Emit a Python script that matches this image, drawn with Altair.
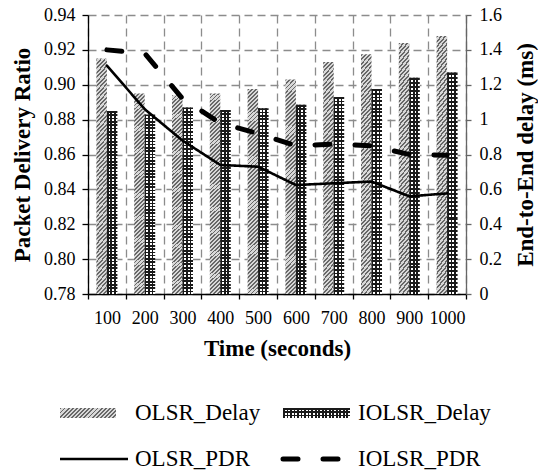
import altair as alt
import pandas as pd

# ---------------- data ----------------
times = [100, 200, 300, 400, 500, 600, 700, 800, 900, 1000]
olsr_delay = [1.35, 1.15, 1.14, 1.15, 1.175, 1.23, 1.33, 1.375, 1.44, 1.48]
iolsr_delay = [1.05, 1.03, 1.07, 1.055, 1.065, 1.085, 1.13, 1.175, 1.24, 1.27]
olsr_pdr = [0.911, 0.886, 0.868, 0.854, 0.853, 0.8425, 0.8435, 0.8445, 0.836, 0.8377]
iolsr_pdr = [0.920, 0.918, 0.892, 0.878, 0.872, 0.865, 0.866, 0.865, 0.860, 0.8595]
pdr_ticks = [0.78, 0.80, 0.82, 0.84, 0.86, 0.88, 0.90, 0.92, 0.94]
delay_ticks = [0, 0.2, 0.4, 0.6, 0.8, 1.0, 1.2, 1.4, 1.6]
bar_series = ["OLSR_Delay", "IOLSR_Delay"]
line_series = ["OLSR_PDR", "IOLSR_PDR"]
legend_names = ["OLSR_Delay", "IOLSR_Delay", "OLSR_PDR", "IOLSR_PDR"]
legend_kinds = ["hatch", "check", "solid", "dash"]

FONT = "Liberation Serif"

bars_df = pd.DataFrame({
    "time": times * 2,
    "series": [bar_series[0]] * len(times) + [bar_series[1]] * len(times),
    "delay": olsr_delay + iolsr_delay,
})
lines_df = pd.DataFrame({
    "time": times * 2,
    "series": [line_series[0]] * len(times) + [line_series[1]] * len(times),
    "pdr": olsr_pdr + iolsr_pdr,
})
legend_df = pd.DataFrame({"name": legend_names, "kind": legend_kinds})
legend_df["col"] = [i % 2 for i in range(len(legend_names))]
legend_df["row"] = [i // 2 for i in range(len(legend_names))]

# ---------------- pattern helpers (styles) ----------------
HATCH_DARK = "#676767"
HATCH_LIGHT = "#d8d8d8"


def stripe_stops(n, c_a, c_b, frac_a):
    stops = []
    for i in range(n):
        s = round(i / n, 5)
        m = round((i + frac_a) / n, 5)
        e = round((i + 1) / n, 5)
        stops += [
            alt.GradientStop(color=c_a, offset=s),
            alt.GradientStop(color=c_a, offset=m),
            alt.GradientStop(color=c_b, offset=m),
            alt.GradientStop(color=c_b, offset=e),
        ]
    return stops


def hatch(n, ratio):
    a = (1 + ratio) / (1 + ratio * ratio)
    b = ratio * a
    return alt.LinearGradient(gradient="linear", stops=stripe_stops(n, HATCH_DARK, HATCH_LIGHT, 0.45),
                              x1=0, y1=0, x2=a, y2=b)


def hstripes(n):
    return alt.LinearGradient(gradient="linear", stops=stripe_stops(n, "#1a1a1a", "#ffffff", 0.5),
                              x1=0, y1=0, x2=0, y2=1)


def vstripes(n):
    return alt.LinearGradient(gradient="linear",
                              stops=stripe_stops(n, "rgba(26,26,26,1)", "rgba(255,255,255,0)", 0.5),
                              x1=0, y1=0, x2=1, y2=0)


# ---------------- axes ----------------
x_axis = alt.Axis(
    title="Time (seconds)", labelAngle=0, tickBand="extent",
    grid=True, gridDash=[8, 5], gridColor="#8c8c8c", gridWidth=1.3,
    domainColor="black", domainWidth=1.3, tickColor="black", tickSize=5, tickWidth=1.3,
    labelFont=FONT, labelFontSize=18, labelColor="black", labelPadding=10,
    titleFont=FONT, titleFontSize=23, titleFontWeight="bold", titleColor="black", titlePadding=10,
)
left_axis = alt.Axis(
    orient="left", title="Packet Delivery Ratio", values=pdr_ticks, format=".2f",
    grid=True, gridDash=[8, 5], gridColor="#8c8c8c", gridWidth=1.3,
    domainColor="black", domainWidth=1.3, tickColor="black", tickSize=6, tickWidth=1.3,
    labelFont=FONT, labelFontSize=18, labelColor="black", labelPadding=7,
    titleFont=FONT, titleFontSize=23, titleFontWeight="bold", titleColor="black", titlePadding=9,
)
right_axis = alt.Axis(
    orient="right", title="End-to-End delay (ms)", values=delay_ticks, format="~g",
    grid=False, domainColor="#666666", domainWidth=1.3, tickColor="#666666", tickSize=5, tickWidth=1.3,
    labelFont=FONT, labelFontSize=18, labelColor="black", labelPadding=8,
    titleFont=FONT, titleFontSize=23, titleFontWeight="bold", titleColor="black",
    titleAngle=270, titleBaseline="top", titlePadding=13,
)

x_enc = alt.X("time:O", sort=times, scale=alt.Scale(paddingInner=0, paddingOuter=0), axis=x_axis)
xoff_enc = alt.XOffset("series:N", sort=bar_series,
                       scale=alt.Scale(domain=bar_series, paddingInner=0, paddingOuter=0.8))
y_delay = alt.Y("delay:Q", scale=alt.Scale(domain=[0, 1.6], nice=False), axis=right_axis)
y_pdr = alt.Y("pdr:Q", scale=alt.Scale(domain=[0.78, 0.94], nice=False, zero=False), axis=left_axis)

bar_base = alt.Chart(bars_df).encode(x=x_enc, xOffset=xoff_enc, y=y_delay)
hatch_bars = bar_base.transform_filter(alt.datum.series == bar_series[0]).mark_bar(fill=hatch(55, 20))
check_bars_a = bar_base.transform_filter(alt.datum.series == bar_series[1]).mark_bar(fill=hstripes(55))
check_bars_b = bar_base.transform_filter(alt.datum.series == bar_series[1]).mark_bar(fill=vstripes(3))
bars = alt.layer(hatch_bars, check_bars_a, check_bars_b)

lines = alt.Chart(lines_df).mark_line(color="black", strokeCap="round").encode(
    x=x_enc,
    y=y_pdr,
    strokeDash=alt.StrokeDash("series:N", scale=alt.Scale(domain=line_series, range=[[1, 0], [15, 25]]),
                              legend=None),
    strokeWidth=alt.StrokeWidth("series:N", scale=alt.Scale(domain=line_series, range=[2.6, 5]),
                                legend=None),
)

main = alt.layer(bars, lines).resolve_scale(y="independent").properties(width=378, height=279)

# ---------------- legend panel (origin = plot-area left edge) ----------------
LW, LH = 378, 94
LEG_LEFT, COL_STEP, ROW_TOP, ROW_STEP = -28, 223, 47, 46
SW_HATCH, SW_CHECK, SW_LINE, TEXT_GAP, SW_H = 56, 67, 68, 75, 10

leg = alt.Chart(legend_df).transform_calculate(
    x0=f"datum.col * {COL_STEP} + {LEG_LEFT}",
    yc=f"datum.row * {ROW_STEP} + {ROW_TOP}",
).transform_calculate(
    xh="datum.x0 + " + str(SW_HATCH),
    xc="datum.x0 + " + str(SW_CHECK),
    xl="datum.x0 + " + str(SW_LINE),
    xt="datum.x0 + " + str(TEXT_GAP),
    y0=f"datum.yc - {SW_H / 2}",
    y1=f"datum.yc + {SW_H / 2}",
)
lx = alt.Scale(domain=[0, LW], range=[0, LW])
ly = alt.Scale(domain=[0, LH], range=[0, LH])

leg_hatch = leg.transform_filter(alt.datum.kind == "hatch").mark_rect(fill=hatch(16, SW_H / SW_HATCH)).encode(
    x=alt.X("x0:Q", scale=lx, axis=None), x2="xh:Q",
    y=alt.Y("y0:Q", scale=ly, axis=None), y2="y1:Q")
leg_check_a = leg.transform_filter(alt.datum.kind == "check").mark_rect(fill=hstripes(3)).encode(
    x=alt.X("x0:Q", scale=lx, axis=None), x2="xc:Q",
    y=alt.Y("y0:Q", scale=ly, axis=None), y2="y1:Q")
leg_check_b = leg.transform_filter(alt.datum.kind == "check").mark_rect(fill=vstripes(19)).encode(
    x=alt.X("x0:Q", scale=lx, axis=None), x2="xc:Q",
    y=alt.Y("y0:Q", scale=ly, axis=None), y2="y1:Q")
leg_solid = leg.transform_filter(alt.datum.kind == "solid").mark_rule(color="black", strokeWidth=2.6).encode(
    x=alt.X("x0:Q", scale=lx, axis=None), x2="xl:Q",
    y=alt.Y("yc:Q", scale=ly, axis=None))
leg_dash = leg.transform_filter(alt.datum.kind == "dash").mark_rule(
    color="black", strokeWidth=5, strokeDash=[15, 25], strokeCap="round").encode(
    x=alt.X("x0:Q", scale=lx, axis=None), x2="xl:Q",
    y=alt.Y("yc:Q", scale=ly, axis=None))
leg_text = leg.mark_text(align="left", baseline="middle", font=FONT, fontSize=23, color="black").encode(
    x=alt.X("xt:Q", scale=lx, axis=None),
    y=alt.Y("yc:Q", scale=ly, axis=None),
    text="name:N")

legend = alt.layer(leg_hatch, leg_check_a, leg_check_b, leg_solid, leg_dash, leg_text).properties(
    width=LW, height=LH)

chart = alt.vconcat(main, legend, spacing=6).configure_view(stroke=None).properties(
    padding={"left": 11, "top": 6, "right": 0, "bottom": 0}, background="white")

chart.save("out.html", embed_options={"renderer": "svg", "actions": False})
